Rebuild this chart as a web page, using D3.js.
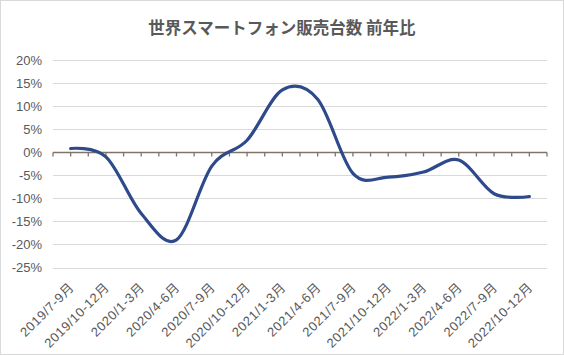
<!DOCTYPE html>
<html><head><meta charset="utf-8">
<script src="https://cdn.jsdelivr.net/npm/d3@7"></script>
<style>
html,body{margin:0;padding:0;background:#fff;}
svg{display:block;font-family:"Noto Sans CJK JP","Liberation Sans",Arial,sans-serif;}
</style></head>
<body><svg id="c" width="564" height="355"></svg>
<script>
const categories = ["2019/7-9月","2019/10-12月","2020/1-3月","2020/4-6月","2020/7-9月","2020/10-12月","2021/1-3月","2021/4-6月","2021/7-9月","2021/10-12月","2022/1-3月","2022/4-6月","2022/7-9月","2022/10-12月"];
const values = [0.8, -1.0, -13.3, -19.0, -3.0, 2.6, 13.5, 11.5, -4.6, -5.4, -4.3, -1.7, -9.0, -9.6];
const yTicks = [20, 15, 10, 5, 0, -5, -10, -15, -20, -25];
const title = "世界スマートフォン販売台数 前年比";

const svg = d3.select("#c");
const W = 564, H = 355;
const m = {left: 53, right: 17, top: 60, bottom: 88};

svg.append("rect").attr("x",0.5).attr("y",0.5).attr("width",W-1).attr("height",H-1)
  .attr("fill","#fff").attr("stroke","#d9d9d9");

svg.append("text").attr("x",282).attr("y",34).attr("text-anchor","middle")
  .attr("font-size",16.5).attr("font-weight","bold").attr("fill","#595959").text(title);

const x = d3.scaleBand().domain(categories).range([m.left, W - m.right]);
const y = d3.scaleLinear().domain([-25, 20]).range([H - m.bottom + 0.5, m.top]);

// gridlines
svg.append("g").selectAll("line").data(yTicks).join("line")
  .attr("x1", m.left).attr("x2", W - m.right)
  .attr("y1", d => Math.round(y(d)) + 0.5).attr("y2", d => Math.round(y(d)) + 0.5)
  .attr("stroke", "#d9d9d9").attr("stroke-width", 1);

// y labels
const yAxis = d3.axisLeft(y).tickValues(yTicks).tickFormat(d => d + "%").tickSize(0).tickPadding(11);
const gy = svg.append("g").attr("transform", `translate(${m.left},0)`).call(yAxis);
gy.select(".domain").remove();
gy.selectAll("text").attr("font-size", 13).attr("fill", "#595959")
  .attr("font-family", "'Liberation Sans', Arial, sans-serif");

// zero axis with ticks
const y0 = Math.round(y(0)) + 0.5;
const bw = x.bandwidth();
const tickXs = [];
for (let i = 0; i <= categories.length * 2; i++) tickXs.push(m.left + i * bw / 2);
const ax = svg.append("g");
ax.append("line").attr("x1", m.left).attr("x2", W - m.right).attr("y1", y0).attr("y2", y0)
  .attr("stroke", "#7f7469").attr("stroke-width", 1.5);
ax.selectAll("line.t").data(tickXs).join("line").attr("class","t")
  .attr("x1", d => d).attr("x2", d => d).attr("y1", y0).attr("y2", y0 + 4)
  .attr("stroke", "#7f7469").attr("stroke-width", 1.3);

// x labels
svg.append("g").selectAll("text").data(categories).join("text")
  .attr("transform", d => `translate(${x(d) + bw/2 + 1},${H - m.bottom + 18}) rotate(-45)`)
  .attr("text-anchor", "end").attr("dy", "0.35em")
  .attr("font-size", 13).attr("letter-spacing", 0.6).attr("fill", "#595959")
  .attr("font-family", "'Liberation Sans', Arial, 'Noto Sans CJK JP', sans-serif")
  .text(d => d);

// line
const line = d3.line().x((d,i) => x(categories[i]) + bw/2).y(d => y(d))
  .curve(d3.curveCardinal.tension(0));
svg.append("path").datum(values).attr("d", line).attr("fill","none")
  .attr("stroke","#2e4a8b").attr("stroke-width",3.2).attr("stroke-linecap","round");
</script></body></html>
